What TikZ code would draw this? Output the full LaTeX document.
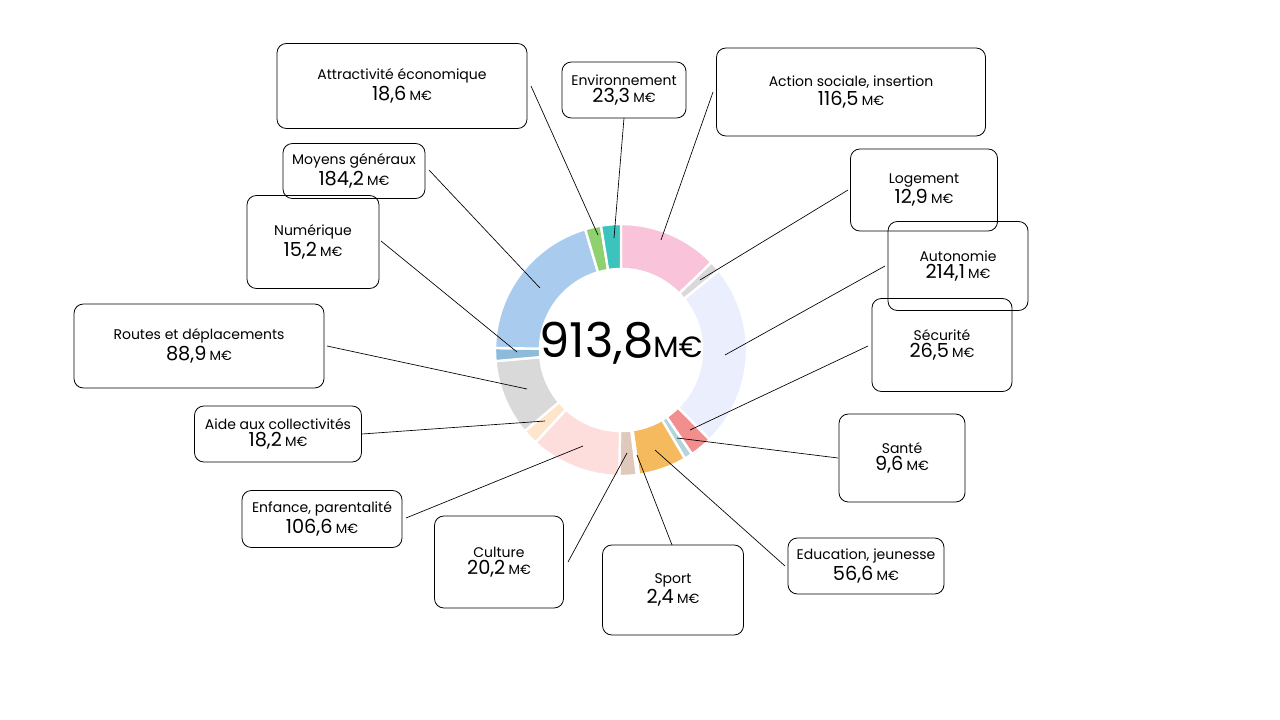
\documentclass[tikz,border=0pt]{standalone}
\usepackage{fontspec}
\setmainfont{Poppins}
\usetikzlibrary{calc}
\tikzset{lbox/.style={draw,rounded corners=7pt,line width=0.6pt,align=center,inner sep=0pt},
lead/.style={line width=0.5pt}}
\newcommand{\mylbox}[7]{\node[lbox,minimum width=#4*0.75pt,minimum height=#5*0.75pt] (#1) at (#2,#3) {\fontsize{10.5}{13}\selectfont #6\\[1pt]\fontsize{14.5}{17}\selectfont #7\,{\fontsize{10}{12}\selectfont M€}};}
\begin{document}
\begin{tikzpicture}[x=0.75pt,y=-0.75pt]
\useasboundingbox[fill=white] (0,0) rectangle (1280,720);
\coordinate (c) at (621,350);
\def\R{126}\def\r{81}
\gdef\acc{-90}
\foreach \v/\col in {116.5/F9C4DA,12.9/D9D9D9,214.1/EBEEFC,26.5/F28E8E,9.6/B4D4DC,56.6/F5BA5E,2.4/E8D3C4,20.2/E0C9BB,106.6/FDDEDC,18.2/FDE6CC,88.9/D9D9D9,15.2/8DBBD9,184.2/A9CCEE,18.6/8ED16E,23.3/3CC3BE}{
  \definecolor{seg}{HTML}{\col}
  \pgfmathsetmacro{\aa}{\acc}
  \pgfmathsetmacro{\bb}{\acc+\v/913.8*360}
  \filldraw[fill=seg,draw=white,line width=1.8pt] ($(c)+(\aa:\R)$) arc[start angle=\aa,end angle=\bb,radius=\R] -- ($(c)+(\bb:\r)$) arc[start angle=\bb,end angle=\aa,radius=\r] -- cycle;
  \global\let\acc\bb
}
\node (tot) at (621,343) {\fontsize{36}{40}\selectfont 913,8{\fontsize{22}{26}\selectfont M€}};
\mylbox{att}{402}{86}{250}{85}{Attractivité économique}{18,6}
\mylbox{env}{624}{90}{124}{56}{Environnement}{23,3}
\mylbox{act}{851}{92}{269}{88}{Action sociale, insertion}{116,5}
\mylbox{log}{924}{190}{147}{82}{Logement}{12,9}
\mylbox{aut}{958}{266}{140}{89}{Autonomie}{214,1}
\mylbox{sec}{942}{345}{140}{93}{Sécurité}{26,5}
\mylbox{san}{902}{458}{126}{88}{Santé}{9,6}
\mylbox{edu}{866}{566}{156}{56}{Education, jeunesse}{56,6}
\mylbox{spo}{673}{590}{141}{90}{Sport}{2,4}
\mylbox{cul}{499}{562}{129}{92}{Culture}{20,2}
\mylbox{enf}{322}{519}{160}{57}{Enfance, parentalité}{106,6}
\mylbox{aid}{278}{434}{167}{56}{Aide aux collectivités}{18,2}
\mylbox{rou}{199}{346}{250}{84}{Routes et déplacements}{88,9}
\mylbox{num}{313}{242}{132}{93}{Numérique}{15,2}
\mylbox{moy}{354}{171}{142}{55}{Moyens généraux}{184,2}
\foreach \n/\px/\py/\qx/\qy in {att/531/86/598/235,env/624/118/614/238,act/713/92/661/240,log/848/190/700/280,aut/885/266/725/355,sec/868/346/690/430,san/838/458/677/438,edu/785/566/655/450,spo/672/545/637/455,cul/568/562/627/453,enf/406/518/583/446,aid/362/434/545/421,rou/327/346/527/389,num/381/241/517/352,moy/429/170/540/288}{
  \coordinate (\n-s) at (\px,\py);
  \coordinate (\n-e) at (\qx,\qy);
  \draw[lead] (\n-s) -- (\n-e);
}
\end{tikzpicture}
\end{document}
